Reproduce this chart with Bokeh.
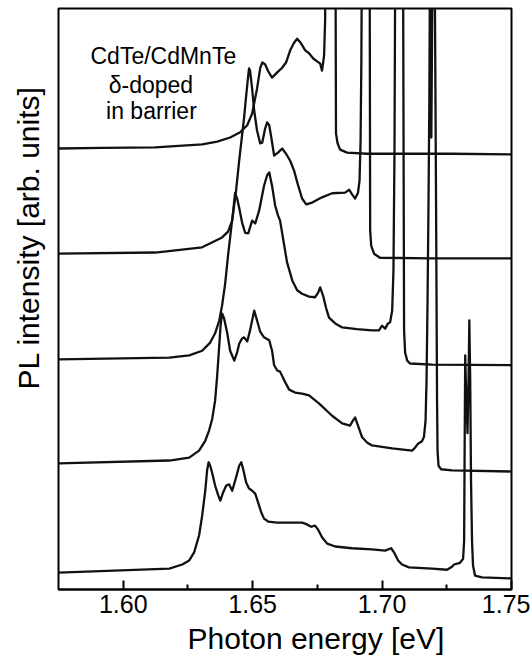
import math
from bokeh.plotting import figure
from bokeh.models import FixedTicker, Label, Title
from bokeh.embed import file_html
from bokeh.resources import INLINE

# ---- data (photon energy in eV, PL intensity in arb. units, spectra offset vertically) ----
tick_values = [1.60, 1.65, 1.70, 1.75]
tick_labels = ["1.60", "1.65", "1.70", "1.75"]
minor_tick_values = [1.625, 1.675, 1.725]

energy_1 = [1.5750, 1.5919, 1.6124, 1.6305, 1.6363, 1.6413, 1.6452, 1.6479, 1.6498, 1.6517,
            1.6529, 1.6537, 1.6548, 1.6560, 1.6575, 1.6595, 1.6614, 1.6629, 1.6645, 1.6660,
            1.6672, 1.6687, 1.6703, 1.6718, 1.6734, 1.6749, 1.6761, 1.6768, 1.6776, 1.6780,
            1.6782, 1.6820, 1.6822, 1.6828, 1.6838, 1.6865, 1.6942, 1.7270, 1.7506]
pl_1 = [75.9, 76.0, 76.1, 76.6, 77.1, 77.8, 78.7, 79.9, 81.9, 86.2,
        89.7, 90.7, 90.4, 89.2, 88.1, 89.0, 89.8, 90.7, 92.8, 94.1,
        94.8, 94.0, 92.8, 92.3, 91.4, 90.9, 90.5, 89.3, 91.9, 97.9,
        110, 110, 78.5, 76.8, 75.7, 75.2, 75.0, 75.0, 74.9]

energy_2 = [1.5750, 1.6124, 1.6305, 1.6382, 1.6405, 1.6421, 1.6436, 1.6448, 1.6459, 1.6467,
            1.6475, 1.6483, 1.6486, 1.6490, 1.6498, 1.6506, 1.6517, 1.6529, 1.6537, 1.6548,
            1.6556, 1.6564, 1.6571, 1.6583, 1.6598, 1.6614, 1.6629, 1.6645, 1.6660, 1.6676,
            1.6691, 1.6707, 1.6730, 1.6768, 1.6807, 1.6857, 1.6873, 1.6884, 1.6896, 1.6907,
            1.6913, 1.6917, 1.6920, 1.6922, 1.6952, 1.6954, 1.6958, 1.6969, 1.6992, 1.7193,
            1.7506]
pl_2 = [57.8, 58.0, 58.9, 60.6, 61.6, 63.5, 68.7, 73.8, 78.1, 81.2,
        85.0, 88.5, 89.7, 89.3, 86.2, 82.4, 79.0, 76.8, 76.9, 79.3,
        80.4, 79.9, 78.1, 74.7, 75.2, 75.9, 75.0, 73.8, 72.1, 69.5,
        67.3, 66.3, 66.6, 67.5, 68.2, 68.3, 68.8, 68.0, 67.3, 68.3,
        70.4, 77.3, 91.0, 110, 110, 61.8, 59.2, 57.8, 57.1, 57.0,
        57.0]

energy_3 = [1.5750, 1.6178, 1.6255, 1.6305, 1.6336, 1.6355, 1.6371, 1.6382, 1.6394, 1.6405,
            1.6417, 1.6425, 1.6432, 1.6440, 1.6448, 1.6459, 1.6471, 1.6483, 1.6498, 1.6510,
            1.6525, 1.6544, 1.6556, 1.6564, 1.6575, 1.6587, 1.6598, 1.6606, 1.6622, 1.6633,
            1.6653, 1.6672, 1.6691, 1.6718, 1.6741, 1.6753, 1.6761, 1.6772, 1.6784, 1.6795,
            1.6819, 1.6846, 1.6903, 1.6961, 1.6988, 1.7000, 1.7012, 1.7023, 1.7031, 1.7039,
            1.7044, 1.7048, 1.7051, 1.7081, 1.7085, 1.7089, 1.7097, 1.7108, 1.7193, 1.7506]
pl_3 = [39.6, 39.9, 40.3, 41.1, 42.5, 44.1, 46.3, 48.9, 52.7, 57.5,
        62.1, 65.2, 68.2, 67.3, 65.7, 63.2, 61.4, 61.3, 63.5, 63.0,
        65.2, 69.5, 71.3, 71.8, 69.5, 66.1, 64.4, 63.5, 59.2, 56.3,
        53.2, 51.5, 50.9, 50.4, 50.3, 51.1, 52.0, 50.6, 48.4, 46.8,
        45.8, 45.1, 44.8, 44.6, 44.6, 45.4, 44.9, 45.8, 46.0, 48.0,
        54.9, 75.6, 110, 110, 44.6, 40.8, 39.4, 38.9, 38.7, 38.6]

energy_4 = [1.5750, 1.6178, 1.6255, 1.6293, 1.6317, 1.6332, 1.6344, 1.6355, 1.6363, 1.6371,
            1.6376, 1.6382, 1.6390, 1.6402, 1.6413, 1.6429, 1.6440, 1.6448, 1.6459, 1.6467,
            1.6479, 1.6490, 1.6506, 1.6517, 1.6529, 1.6544, 1.6564, 1.6575, 1.6583, 1.6595,
            1.6606, 1.6622, 1.6641, 1.6664, 1.6691, 1.6718, 1.6757, 1.6807, 1.6846, 1.6876,
            1.6888, 1.6896, 1.6907, 1.6923, 1.6942, 1.6961, 1.7039, 1.7116, 1.7127, 1.7139,
            1.7154, 1.7162, 1.71680, 1.71718, 1.71757, 1.71795, 1.71826, 1.71853, 1.71903, 1.71954,
            1.72027, 1.72046, 1.72085, 1.72124, 1.72143, 1.72181, 1.72278, 1.7270, 1.7506]
pl_4 = [21.7, 22.2, 22.7, 23.9, 25.6, 27.4, 29.4, 32.5, 36.8, 42.0,
        45.4, 47.5, 46.6, 44.1, 41.1, 39.4, 40.8, 42.3, 43.2, 43.4,
        42.7, 44.6, 48.0, 46.3, 44.4, 43.4, 42.9, 41.1, 38.6, 37.7,
        37.5, 36.0, 34.4, 33.9, 33.7, 33.4, 32.0, 29.9, 28.6, 28.2,
        29.1, 29.6, 28.2, 26.2, 25.3, 24.8, 24.3, 23.9, 24.4, 25.1,
        25.5, 26.3, 29.1, 36.0, 49.7, 67.0, 84.2, 110, 77.8, 110,
        110, 97.9, 67.0, 32.5, 23.9, 21.3, 20.7, 20.5, 20.3]

energy_5 = [1.5750, 1.6178, 1.6228, 1.6255, 1.6274, 1.6293, 1.6305, 1.6317, 1.6324, 1.6330,
            1.6336, 1.6344, 1.6355, 1.6367, 1.6375, 1.6386, 1.6398, 1.6409, 1.6421, 1.6436,
            1.6448, 1.6456, 1.6463, 1.6475, 1.6486, 1.6498, 1.6510, 1.6521, 1.6533, 1.6544,
            1.6560, 1.6595, 1.6653, 1.6691, 1.6710, 1.6726, 1.6741, 1.6753, 1.6768, 1.6788,
            1.6819, 1.6884, 1.6961, 1.7012, 1.7035, 1.7046, 1.7062, 1.7077, 1.7104, 1.7193,
            1.7251, 1.7270, 1.7278, 1.7301, 1.7313, 1.7317, 1.73189, 1.73212, 1.73236, 1.73301,
            1.73340, 1.73371, 1.73405, 1.73436, 1.73475, 1.73514, 1.73591, 1.7386, 1.7506]
pl_5 = [2.9, 3.6, 4.3, 5.0, 6.4, 9.3, 12.7, 17.0, 20.5, 21.9,
        21.3, 20.0, 17.9, 16.2, 15.3, 16.7, 17.9, 18.1, 17.0, 19.3,
        21.3, 21.9, 20.8, 18.4, 17.4, 17.0, 16.5, 15.0, 13.3, 12.2,
        11.7, 11.5, 11.5, 11.5, 11.2, 10.8, 11.0, 10.3, 9.0, 7.9,
        7.4, 7.1, 6.9, 6.7, 7.1, 6.4, 5.0, 4.3, 3.8, 3.6,
        3.4, 3.9, 4.3, 4.6, 5.3, 8.4, 23.9, 40.3, 36.0, 26.9,
        36.0, 46.3, 36.0, 18.8, 8.4, 4.1, 2.4, 2.1, 1.9]

spectra = [(energy_1, pl_1), (energy_2, pl_2), (energy_3, pl_3), (energy_4, pl_4), (energy_5, pl_5)]

sample_text = ["CdTe/CdMnTe", "\u03b4-doped", "in barrier"]
x_title = "Photon energy [eV]"
y_title = "PL intensity [arb. units]"

FONT = "Liberation Sans"

# ---- figure ----
p = figure(width=530, height=664, x_range=(1.575, 1.75), y_range=(0, 100),
           output_backend="svg", toolbar_location=None,
           min_border_left=57, min_border_right=19, min_border_top=8, min_border_bottom=75)
p.background_fill_color = "white"
p.border_fill_color = "white"
p.outline_line_color = "black"
p.outline_line_width = 2
p.grid.visible = False
p.yaxis.visible = False

for e, i in spectra:
    p.line(e, i, line_color="#111111", line_width=2.3, line_join="round")

ax = p.xaxis[0]
ax.ticker = FixedTicker(ticks=tick_values, minor_ticks=minor_tick_values)
ax.major_label_overrides = {v: s for v, s in zip(tick_values, tick_labels)}
ax.axis_line_width = 2
ax.axis_line_color = "black"
ax.major_tick_in = 9
ax.major_tick_out = 0
ax.minor_tick_in = 5
ax.minor_tick_out = 0
ax.major_tick_line_width = 2
ax.minor_tick_line_width = 2
ax.major_tick_line_color = "black"
ax.minor_tick_line_color = "black"
ax.major_label_standoff = 5
ax.major_label_text_font = FONT
ax.major_label_text_font_size = "25px"
ax.major_label_text_color = "black"

# axis titles as side-panel titles, so that they can sit off-centre like the original
x_t = Title(text=x_title, align="left", offset=129, standoff=9,
            text_font=FONT, text_font_size="30px", text_font_style="normal", text_color="black")
p.add_layout(x_t, "below")
y_t = Title(text=y_title, align="left", offset=200, standoff=23, vertical_align="top",
            text_font=FONT, text_font_size="30px", text_font_style="normal", text_color="black")
p.add_layout(y_t, "left")

sample_x = [1.6155, 1.6107, 1.6109]
sample_y = [91.9, 86.9, 82.3]
for t, xx, yy in zip(sample_text, sample_x, sample_y):
    p.add_layout(Label(x=xx, y=yy, text=t, text_align="center", text_baseline="alphabetic",
                       text_font=FONT, text_font_size="23px", text_color="black"))

open("out.html", "w").write(file_html(p, INLINE))
